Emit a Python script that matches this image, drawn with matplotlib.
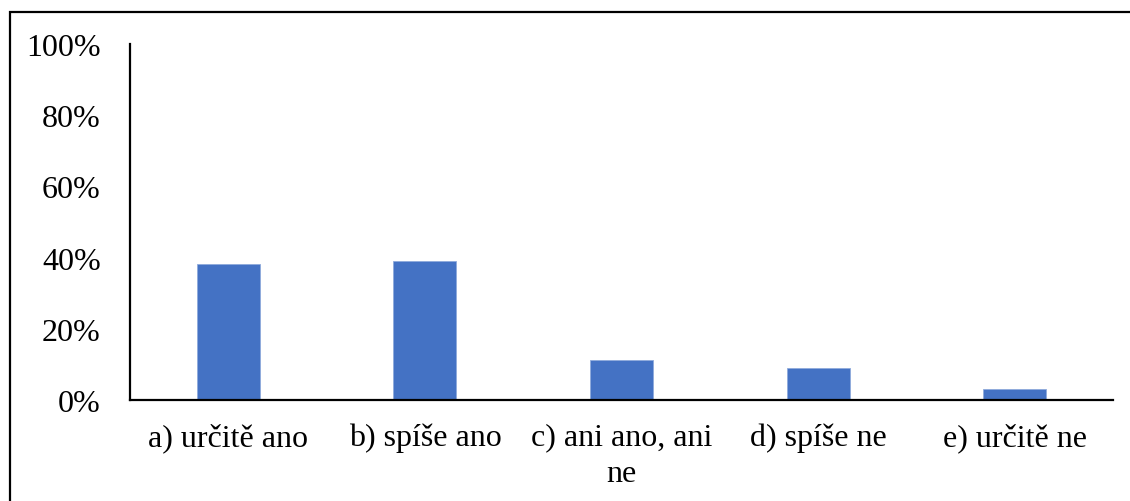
import matplotlib

matplotlib.use("Agg")
import matplotlib.pyplot as plt
from matplotlib.patches import Rectangle
from matplotlib.ticker import FuncFormatter, MultipleLocator

categories = ["a) určitě ano", "b) spíše ano", "c) ani ano, ani\nne", "d) spíše ne", "e) určitě ne"]
values = [38.2, 39.0, 11.2, 9.0, 3.1]

plt.rcParams["font.family"] = ["Liberation Serif", "DejaVu Serif"]

fig = plt.figure(figsize=(11.3, 5.02), dpi=100)
ax = fig.add_axes([130 / 1130, 1 - 401 / 502, 983 / 1130, 356 / 502])

x = range(len(categories))
ax.bar(x, values, width=0.32, color="#4472C4", edgecolor="#8FAADC", linewidth=0.6)

ax.set_xlim(-0.5, len(categories) - 0.5)
ax.set_ylim(0, 100)
ax.yaxis.set_major_locator(MultipleLocator(20))
ax.yaxis.set_major_formatter(FuncFormatter(lambda v, _: f"{v:.0f}%"))
ax.set_xticks(list(x))
ax.set_xticklabels(categories, fontsize=23, linespacing=1.35)
ax.tick_params(axis="y", labelsize=23, length=0, pad=21)
ax.tick_params(axis="x", length=0, pad=16)

for side in ("top", "right"):
    ax.spines[side].set_visible(False)
for side in ("left", "bottom"):
    ax.spines[side].set_linewidth(1.6)

# outer frame (cut off at right and bottom edges)
fig.patches.append(
    Rectangle((10 / 1130, -0.05), 1.2, 1 - 13 / 502 + 0.05,
              transform=fig.transFigure, fill=False, edgecolor="black", linewidth=1.6)
)

fig.savefig("out.png", dpi=100)
